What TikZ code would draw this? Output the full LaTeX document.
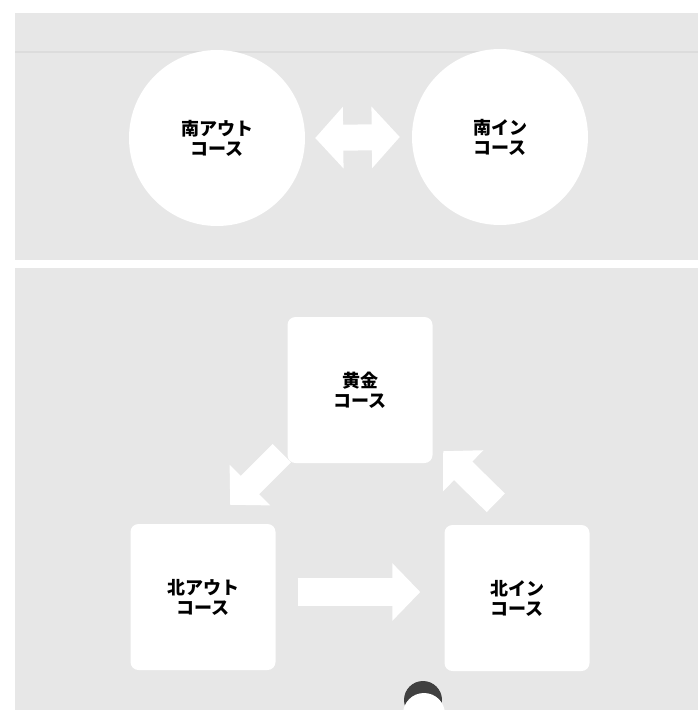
\documentclass[tikz,border=0pt]{standalone}
\usepackage{fontspec}
\newfontfamily\jp{Noto Sans CJK JP}
\usetikzlibrary{arrows.meta,calc}
\definecolor{panel}{RGB}{231,231,231}
\definecolor{seam}{RGB}{220,220,220}
\definecolor{punch}{RGB}{64,64,64}
\pgfdeclarelayer{back}
\pgfdeclarelayer{arrowlayer}
\pgfsetlayers{back,arrowlayer,main}
\begin{document}
\begin{tikzpicture}[x=1pt,y=-1pt,
  lbl/.style={font=\jp\bfseries\fontsize{18pt}{20pt}\selectfont, align=center, text=black},
  disc/.style={circle, fill=white, minimum size=176pt, inner sep=0pt, lbl},
  card/.style={rectangle, rounded corners=8pt, fill=white, minimum width=145pt, minimum height=146pt, inner sep=0pt, lbl},
  flow/.style={white, line width=28pt, -{Triangle[width=56pt,length=28pt]}},
  dflow/.style={white, line width=26pt, {Triangle[width=60pt,length=28pt]}-{Triangle[width=60pt,length=28pt]}},
]
\useasboundingbox (0,0) rectangle (698,710);
\begin{pgfonlayer}{back}
\fill[white] (0,0) rectangle (698,710);
\fill[panel] (15,13) rectangle (698,260);
\fill[panel] (15,268) rectangle (698,710);
\draw[seam, line width=1.5pt] (15,52) -- (698,52);
\end{pgfonlayer}

% nodes
\node[disc] (sout) at (217,138) {南アウト\\コース};
\node[disc] (sin) at (500,137) {南イン\\コース};
\node[card] (gold) at (360,390) {黄金\\コース};
\node[card] (nout) at (203,597) {北アウト\\コース};
\node[card] (nin) at (517,598) {北イン\\コース};

\coordinate (h1) at ([shift={(22,-5)}]nout.east);
\coordinate (h2) at ($(nin.west |- h1)+(-24,0)$);
\coordinate (l1) at ([shift={(-5.5,-10)}]gold.south west);
\coordinate (l2) at ([shift={(-45.5,-19)}]nout.north east);
\coordinate (r1) at ([shift={(51.5,-22)}]nin.north west);
\coordinate (r2) at ([shift={(10.5,-12)}]gold.south east);

% connectors, under the cards
\begin{pgfonlayer}{arrowlayer}
\draw[dflow] ([xshift=10pt]sout.east) -- ([xshift=-12pt]sin.west);
\draw[flow] (h1) -- (h2);
\draw[flow, line width=26pt] (l1) -- (l2);
\draw[flow, line width=26pt] (r1) -- (r2);
\end{pgfonlayer}

% hole punch
\begin{scope}
\clip (0,0) rectangle (698,710);
\fill[punch] (423,700) circle[radius=19pt];
\fill[white] (424,714) circle[radius=21pt];
\end{scope}
\end{tikzpicture}
\end{document}
